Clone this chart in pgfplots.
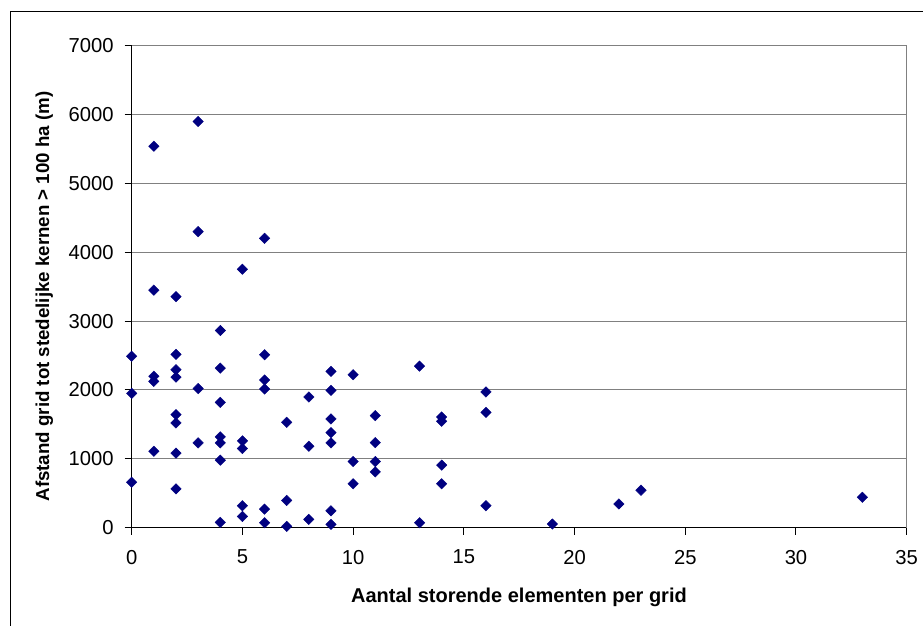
\documentclass[border=0pt]{standalone}
\usepackage{fontspec}
\setmainfont{Liberation Sans}
\usepackage{pgfplots}
\pgfplotsset{compat=1.18}
\definecolor{navy}{HTML}{000080}
\definecolor{gridgray}{HTML}{808080}
\begin{document}
\fontsize{19.5}{23}\selectfont
\begin{tikzpicture}[x=1pt,y=1pt]
\useasboundingbox (0,0) rectangle (923,625);
\begin{scope}
\clip (0,0) rectangle (923,625);
\draw[black, line width=1pt] (10,-20) -- (10,613) -- (940,613);
\end{scope}
\begin{axis}[
  at={(131.7pt,97.3pt)}, anchor=south west,
  scale only axis, width=775pt, height=482pt,
  xmin=0, xmax=35, ymin=0, ymax=7000,
  xtick={0,5,...,35}, ytick={0,1000,...,7000},
  axis x line*=bottom, axis y line*=left,
  axis line style={black, line width=1.2pt, -},
  tick align=outside, major tick length=7pt,
  tick style={black, line width=1pt},
  ymajorgrids, grid style={gridgray, line width=1pt},
  scaled y ticks=false,
  /pgf/number format/assume math mode=true,
  /pgf/number format/1000 sep={},
  ticklabel style={font=\fontsize{20.2}{24}\selectfont, text=black},
  yticklabel style={inner sep=0pt, xshift=-11pt},
  xticklabel style={inner sep=0pt, yshift=-15pt},
  clip=false,
]
\draw[gridgray, line width=1pt] (rel axis cs:1,0) -- (rel axis cs:1,1);
\addplot[only marks, mark=square*, mark size=3.7pt, mark options={rotate=45, fill=navy, draw=navy}] coordinates {
(0,2490) (0,1950) (0,660)
(1,5540) (1,3450) (1,2200) (1,2125) (1,1110)
(2,3357) (2,2516) (2,2294) (2,2188) (2,1642) (2,1521) (2,1082) (2,565)
(3,5900) (3,4300) (3,2020) (3,1232)
(4,2864) (4,2318) (4,1821) (4,1319) (4,1232) (4,980) (4,77)
(5,3754) (5,1261) (5,1150) (5,319) (5,164)
(6,4203) (6,2512) (6,2145) (6,2014) (6,270) (6,72)
(7,1531) (7,396) (7,19)
(8,1898) (8,1183) (8,121)
(9,2270) (9,1995) (9,1579) (9,1381) (9,1232) (9,246) (9,48)
(10,2222) (10,961) (10,638)
(11,1628) (11,1236) (11,961) (11,811)
(13,2347) (13,72)
(14,1608) (14,1546) (14,908) (14,638)
(16,1971) (16,1676) (16,319)
(19,53)
(22,345)
(23,544)
(33,442)
};
\end{axis}
\node[anchor=base, font=\bfseries\fontsize{20}{24}\selectfont] at (519,22.3) {Aantal storende elementen per grid};
\node[rotate=90, anchor=base, font=\bfseries\fontsize{18.7}{22}\selectfont] at (49,328.5) {Afstand grid tot stedelijke kernen > 100 ha (m)};
\end{tikzpicture}
\end{document}
